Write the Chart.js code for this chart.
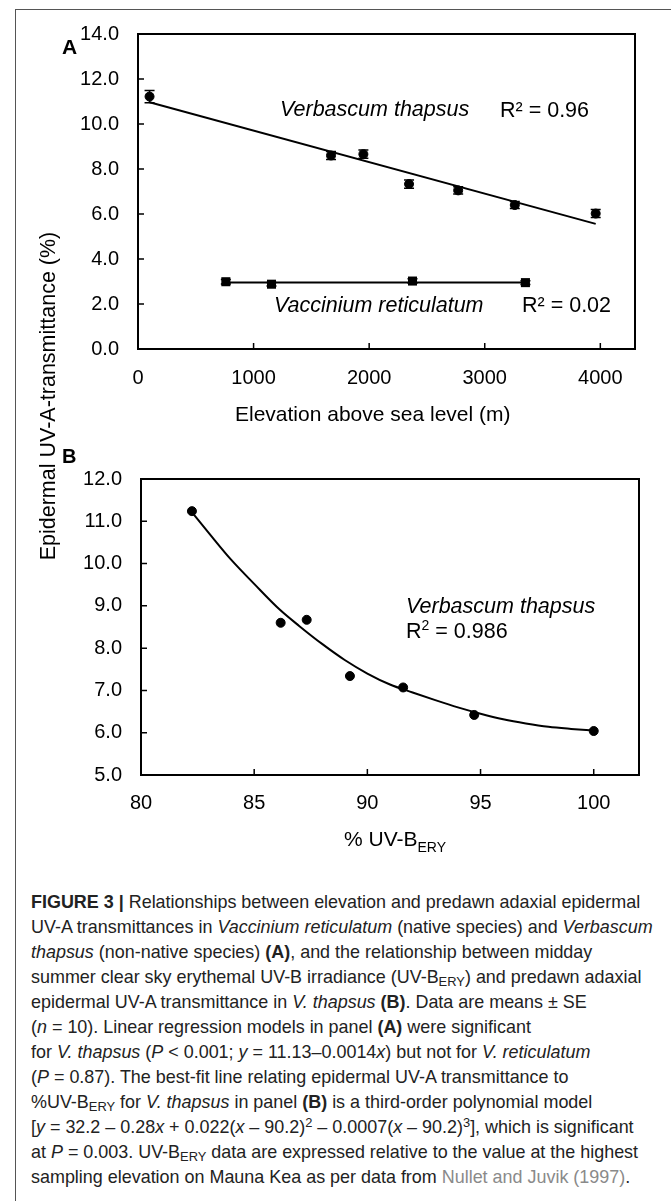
<!DOCTYPE html>
<html><head><meta charset="utf-8">
<script src="https://cdn.jsdelivr.net/npm/chart.js@4.4.0/dist/chart.umd.min.js"></script>
<style>
html,body{margin:0;padding:0;background:#fff;}
body{width:671px;height:1201px;position:relative;overflow:hidden;font-family:"Liberation Sans",Arial,Helvetica,sans-serif;color:#000;}
.abs{position:absolute;white-space:nowrap;line-height:1;transform:translateY(-50%);}
canvas{position:absolute;left:0;}
#frameTop{position:absolute;left:15px;top:9px;width:656px;height:0;border-top:1px solid #555;}
#frameLeft{position:absolute;left:15px;top:9px;width:0;height:1192px;border-left:1px solid #555;}
#caption{position:absolute;left:31px;top:889px;transform-origin:0 0;color:#222;font-size:19px;}
#caption div{height:25px;line-height:25px;white-space:nowrap;}
#caption sub{font-size:0.72em;vertical-align:-0.25em;line-height:0;}
#caption sup{font-size:0.72em;vertical-align:0.45em;line-height:0;}
.it{font-style:italic;}
.ann{font-size:21.5px;}
sub.ax{font-size:14px;vertical-align:-6px;line-height:0;}
sup.r2{font-size:14px;vertical-align:8px;line-height:0;}
</style></head>
<body>
<div id="frameTop"></div><div id="frameLeft"></div>
<canvas id="cA" width="671" height="420" style="top:0;width:671px;height:420px"></canvas>
<canvas id="cB" width="671" height="400" style="top:440px;width:671px;height:400px"></canvas>

<div class="abs" style="left:62px;top:46px;font-weight:bold;font-size:21px">A</div>
<div class="abs" style="left:62px;top:456px;font-weight:bold;font-size:20px">B</div>

<div class="abs ann it" style="left:280px;top:110px">Verbascum thapsus</div>
<div class="abs ann" style="left:500px;top:111px">R² = 0.96</div>
<div class="abs ann it" style="left:274px;top:306px">Vaccinium reticulatum</div>
<div class="abs ann" style="left:522px;top:306px">R² = 0.02</div>
<div class="abs ann it" style="left:406px;top:607px">Verbascum thapsus</div>
<div class="abs ann" style="left:406px;top:632px">R<sup class="r2">2</sup> = 0.986</div>

<div class="abs" style="left:235px;top:413px;font-size:21px">Elevation above sea level (m)</div>
<div class="abs" style="left:344px;top:838px;font-size:21px">% UV-B<sub class="ax">ERY</sub></div>
<div class="abs" style="left:49px;top:396px;font-size:21.5px;transform:translate(-50%,-50%) rotate(-90deg)">Epidermal UV-A-transmittance (%)</div>

<div id="caption">
<div><b>FIGURE 3 |</b> Relationships between elevation and predawn adaxial epidermal</div>
<div><span id="capLong">UV-A transmittances in <i>Vaccinium reticulatum</i> (native species) and <i>Verbascum</i></span></div>
<div><i>thapsus</i> (non-native species) <b>(A)</b>, and the relationship between midday</div>
<div>summer clear sky erythemal UV-B irradiance (UV-B<sub>ERY</sub>) and predawn adaxial</div>
<div>epidermal UV-A transmittance in <i>V. thapsus</i> <b>(B)</b>. Data are means ± SE</div>
<div>(<i>n</i> = 10). Linear regression models in panel <b>(A)</b> were significant</div>
<div>for <i>V. thapsus</i> (<i>P</i> &lt; 0.001; <i>y</i> = 11.13–0.0014<i>x</i>) but not for <i>V. reticulatum</i></div>
<div>(<i>P</i> = 0.87). The best-fit line relating epidermal UV-A transmittance to</div>
<div>%UV-B<sub>ERY</sub> for <i>V. thapsus</i> in panel <b>(B)</b> is a third-order polynomial model</div>
<div>[<i>y</i> = 32.2 – 0.28<i>x</i> + 0.022(<i>x</i> – 90.2)<sup>2</sup> – 0.0007(<i>x</i> – 90.2)<sup>3</sup>], which is significant</div>
<div>at <i>P</i> = 0.003. UV-B<sub>ERY</sub> data are expressed relative to the value at the highest</div>
<div>sampling elevation on Mauna Kea as per data from <span style="color:#8a8a8a">Nullet and Juvik (1997)</span>.</div>
</div>

<script>
// ---- Panel A data ----
const elevVT = [100, 1670, 1950, 2345, 2770, 3260, 3960];
const uvaVT  = [11.22, 8.60, 8.66, 7.33, 7.05, 6.40, 6.02];
const seVT   = [0.27, 0.18, 0.18, 0.18, 0.16, 0.16, 0.18];
const elevVR = [760, 1155, 2375, 3352];
const uvaVR  = [2.99, 2.88, 3.02, 2.95];
const seVR   = [0.10, 0.08, 0.10, 0.08];
const fitVTx = [100, 3960];
const fitVTy = [10.97, 5.56];
const fitVRx = [760, 3352];
const fitVRy = [2.96, 2.96];
// ---- Panel B data ----
const uvbB   = [82.25, 86.17, 87.32, 89.23, 91.58, 94.72, 100.0];
const uvaB   = [11.24, 8.60, 8.67, 7.34, 7.07, 6.42, 6.04];
const curveBx = [82.3, 83, 84, 85, 86.15, 87, 88, 89, 90, 91, 92, 93, 94, 95, 96, 97, 98, 99, 100];
const curveBy = [11.18, 10.72, 10.08, 9.52, 8.90, 8.52, 8.10, 7.72, 7.40, 7.14, 6.95, 6.77, 6.60, 6.45, 6.32, 6.22, 6.14, 6.09, 6.05];
// ---- axis ranges and tick labels ----
const rangeXA = [0, 4300];
const ticksXA = [0, 1000, 2000, 3000, 4000];
const rangeYA = [0, 14];
const ticksYA = [0, 2, 4, 6, 8, 10, 12, 14];
const rangeXB = [80, 102];
const ticksXB = [80, 85, 90, 95, 100];
const rangeYB = [5, 12];
const ticksYB = [5, 6, 7, 8, 9, 10, 11, 12];

const pts = (xs, ys) => xs.map((x, i) => ({x: x, y: ys[i]}));

Chart.defaults.font.family = '"Liberation Sans", Arial, Helvetica, sans-serif';
Chart.defaults.color = '#000';

const frameTicks = {
  id: 'frameTicks',
  afterDatasetsDraw(chart) {
    const {ctx, chartArea: a, scales: {x, y}} = chart;
    ctx.save();
    ctx.strokeStyle = '#000';
    ctx.lineWidth = 2;
    ctx.strokeRect(a.left, a.top, a.right - a.left, a.bottom - a.top);
    ctx.lineWidth = 1.5;
    ctx.beginPath();
    x.ticks.forEach(t => { const p = x.getPixelForValue(t.value); if (p > a.left + 2 && p < a.right - 2) { ctx.moveTo(p, a.bottom); ctx.lineTo(p, a.bottom - 6); } });
    y.ticks.forEach(t => { const p = y.getPixelForValue(t.value); if (p > a.top + 2 && p < a.bottom - 2) { ctx.moveTo(a.left, p); ctx.lineTo(a.left + 6, p); } });
    ctx.stroke();
    ctx.restore();
  }
};

const errorBars = {
  id: 'errorBars',
  afterDatasetsDraw(chart) {
    const {ctx, scales: {y}} = chart;
    ctx.save();
    ctx.strokeStyle = '#000';
    ctx.lineWidth = 1.5;
    chart.data.datasets.forEach((ds, i) => {
      if (!ds.errors) return;
      const meta = chart.getDatasetMeta(i);
      meta.data.forEach((el, j) => {
        const v = ds.data[j].y, e = ds.errors[j];
        const yt = y.getPixelForValue(v + e), yb = y.getPixelForValue(v - e);
        ctx.beginPath();
        ctx.moveTo(el.x, yt); ctx.lineTo(el.x, yb);
        ctx.moveTo(el.x - 5, yt); ctx.lineTo(el.x + 5, yt);
        ctx.moveTo(el.x - 5, yb); ctx.lineTo(el.x + 5, yb);
        ctx.stroke();
      });
    });
    ctx.restore();
  }
};

function linScale(range, tickVals, fmt, size, pad, fit, horiz) {
  return {
    type: 'linear', min: range[0], max: range[1],
    afterBuildTicks: s => { s.ticks = tickVals.map(v => ({value: v})); },
    ticks: {callback: fmt, font: {size: size}, padding: pad, color: '#000', maxRotation: 0, autoSkip: false},
    grid: {display: false, drawTicks: false},
    border: {display: false},
    afterFit: horiz ? (s => { s.height = fit; }) : (s => { s.width = fit; })
  };
}

new Chart(document.getElementById('cA'), {
  type: 'scatter',
  data: {datasets: [
    {label: 'V. thapsus fit', data: pts(fitVTx, fitVTy), showLine: true, borderColor: '#000', borderWidth: 2, pointRadius: 0},
    {label: 'V. reticulatum fit', data: pts(fitVRx, fitVRy), showLine: true, borderColor: '#000', borderWidth: 2, pointRadius: 0},
    {label: 'Verbascum thapsus', data: pts(elevVT, uvaVT), errors: seVT, pointStyle: 'circle', pointRadius: 4.5, borderWidth: 1, backgroundColor: '#000', borderColor: '#000'},
    {label: 'Vaccinium reticulatum', data: pts(elevVR, uvaVR), errors: seVR, pointStyle: 'rect', pointRadius: 6.4, borderWidth: 0, backgroundColor: '#000', borderColor: '#000'}
  ]},
  options: {
    responsive: false, animation: false, events: [],
    layout: {padding: {top: 34, right: 36, left: 0, bottom: 0}},
    plugins: {legend: {display: false}, tooltip: {enabled: false}},
    scales: {
      x: linScale(rangeXA, ticksXA, v => String(v), 20, 17, 71, true),
      y: linScale(rangeYA, ticksYA, v => v.toFixed(1), 20, 19, 138, false)
    }
  },
  plugins: [frameTicks, errorBars]
});

new Chart(document.getElementById('cB'), {
  type: 'scatter',
  data: {datasets: [
    {label: 'Polynomial fit', data: pts(curveBx, curveBy), showLine: true, borderColor: '#000', borderWidth: 2, pointRadius: 0, cubicInterpolationMode: 'monotone'},
    {label: 'Verbascum thapsus', data: pts(uvbB, uvaB), pointStyle: 'circle', pointRadius: 4.5, borderWidth: 1, backgroundColor: '#000', borderColor: '#000'}
  ]},
  options: {
    responsive: false, animation: false, events: [],
    layout: {padding: {top: 39, right: 32, left: 0, bottom: 0}},
    plugins: {legend: {display: false}, tooltip: {enabled: false}},
    scales: {
      x: linScale(rangeXB, ticksXB, v => String(v), 20, 16, 65, true),
      y: linScale(rangeYB, ticksYB, v => v.toFixed(1), 20, 19, 141, false)
    }
  },
  plugins: [frameTicks]
});

function fitCaption() {
  const cap = document.getElementById('caption');
  const w = document.getElementById('capLong').offsetWidth;
  if (w > 0) cap.style.transform = 'scaleX(' + (622 / w).toFixed(4) + ')';
}
fitCaption();
if (document.fonts && document.fonts.ready) document.fonts.ready.then(fitCaption);
</script>
</body></html>
